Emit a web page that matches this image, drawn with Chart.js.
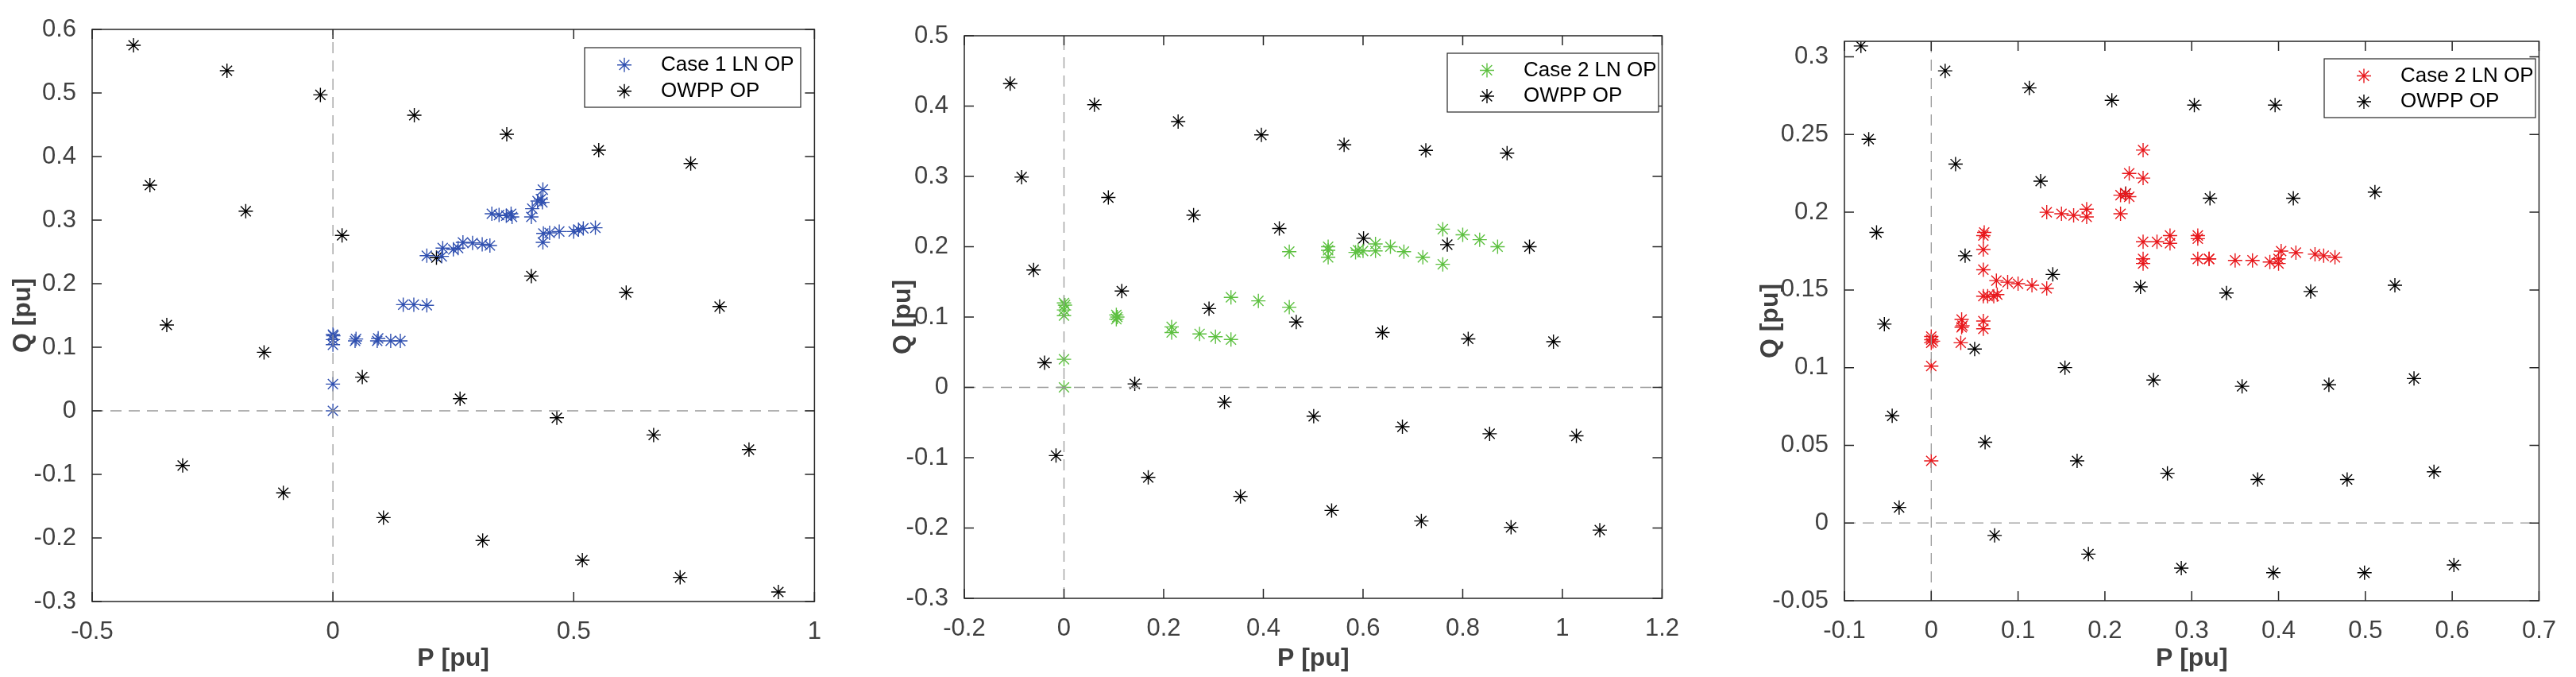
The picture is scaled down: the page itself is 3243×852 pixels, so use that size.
<!DOCTYPE html>
<html><head><meta charset="utf-8">
<script src="https://cdn.jsdelivr.net/npm/chart.js@4.4.0/dist/chart.umd.min.js"></script>
<style>
body{margin:0;background:#fff;width:3243px;height:852px;overflow:hidden;position:relative}
.c{position:absolute;top:0;height:852px}
</style></head><body>
<div class="c" id="d1"><canvas id="c1"></canvas></div>
<div class="c" id="d2"><canvas id="c2"></canvas></div>
<div class="c" id="d3"><canvas id="c3"></canvas></div>
<script>
// ---------- Panel 1 ----------
const p1OwppX=[-0.414,-0.22,-0.026,0.169,0.361,0.552,0.743,-0.38,-0.181,0.019,0.215,0.412,0.609,0.803,-0.345,-0.143,0.061,0.264,0.465,0.666,0.864,-0.312,-0.103,0.105,0.311,0.518,0.721,0.925];
const p1OwppY=[0.575,0.535,0.497,0.465,0.435,0.41,0.389,0.355,0.314,0.276,0.241,0.212,0.186,0.164,0.135,0.092,0.053,0.019,-0.011,-0.038,-0.061,-0.086,-0.129,-0.168,-0.204,-0.235,-0.262,-0.285];
const p1LnX=[0,0,0,0,0,0.001,0.046,0.048,0.092,0.094,0.12,0.14,0.146,0.168,0.195,0.195,0.226,0.228,0.25,0.26,0.27,0.29,0.31,0.326,0.33,0.345,0.36,0.37,0.372,0.412,0.414,0.425,0.432,0.436,0.435,0.436,0.437,0.45,0.47,0.5,0.51,0.52,0.545];
const p1LnY=[0,0.042,0.104,0.112,0.12,0.118,0.11,0.113,0.11,0.114,0.11,0.11,0.167,0.167,0.166,0.244,0.243,0.256,0.254,0.256,0.265,0.264,0.262,0.26,0.31,0.308,0.307,0.31,0.305,0.305,0.318,0.33,0.333,0.348,0.328,0.265,0.279,0.28,0.282,0.282,0.285,0.287,0.288];
const p1XTicks=[-0.5,0,0.5,1];
const p1YTicks=[-0.3,-0.2,-0.1,0,0.1,0.2,0.3,0.4,0.5,0.6];
// ---------- Panel 2 ----------
const p2OwppX=[-0.108,0.061,0.229,0.396,0.562,0.726,0.889,-0.085,0.089,0.26,0.432,0.601,0.769,0.934,-0.061,0.116,0.291,0.466,0.639,0.811,0.982,-0.039,0.142,0.322,0.501,0.679,0.854,1.028,-0.016,0.169,0.354,0.537,0.717,0.897,1.075];
const p2OwppY=[0.432,0.402,0.378,0.359,0.345,0.337,0.333,0.299,0.27,0.245,0.226,0.212,0.203,0.2,0.167,0.137,0.112,0.093,0.078,0.069,0.065,0.035,0.005,-0.021,-0.041,-0.056,-0.066,-0.069,-0.097,-0.128,-0.155,-0.175,-0.19,-0.199,-0.203];
const p2LnX=[0,0,0,0,0,0.002,0.105,0.105,0.107,0.216,0.216,0.272,0.304,0.335,0.335,0.39,0.452,0.452,0.53,0.53,0.53,0.585,0.59,0.6,0.625,0.625,0.655,0.682,0.72,0.76,0.76,0.8,0.834,0.87];
const p2LnY=[0,0.04,0.102,0.11,0.12,0.117,0.097,0.103,0.1,0.078,0.086,0.076,0.072,0.068,0.128,0.123,0.114,0.193,0.185,0.195,0.2,0.192,0.195,0.194,0.194,0.204,0.2,0.193,0.185,0.175,0.225,0.217,0.21,0.2];
const p2XTicks=[-0.2,0,0.2,0.4,0.6,0.8,1,1.2];
const p2YTicks=[-0.3,-0.2,-0.1,0,0.1,0.2,0.3,0.4,0.5];
// ---------- Panel 3 ----------
const p3OwppX=[-0.081,0.016,0.113,0.208,0.303,0.396,-0.072,0.028,0.126,0.224,0.321,0.417,0.511,-0.063,0.039,0.14,0.241,0.34,0.437,0.534,-0.054,0.05,0.154,0.256,0.358,0.458,0.556,-0.045,0.062,0.168,0.272,0.376,0.479,0.579,-0.037,0.073,0.181,0.288,0.394,0.499,0.602];
const p3OwppY=[0.307,0.291,0.28,0.272,0.269,0.269,0.247,0.231,0.22,0.212,0.209,0.209,0.213,0.187,0.172,0.16,0.152,0.148,0.149,0.153,0.128,0.112,0.1,0.092,0.088,0.089,0.093,0.069,0.052,0.04,0.032,0.028,0.028,0.033,0.01,-0.008,-0.02,-0.029,-0.032,-0.032,-0.027];
const p3LnX=[0,0,0,0,0,0.002,0.034,0.035,0.035,0.036,0.06,0.06,0.06,0.06,0.06,0.06,0.061,0.065,0.072,0.076,0.075,0.088,0.1,0.116,0.133,0.133,0.15,0.164,0.179,0.179,0.218,0.218,0.224,0.228,0.228,0.244,0.244,0.244,0.244,0.244,0.26,0.275,0.275,0.307,0.307,0.307,0.32,0.32,0.35,0.37,0.39,0.4,0.4,0.403,0.42,0.442,0.452,0.465];
const p3LnY=[0.04,0.101,0.116,0.118,0.12,0.117,0.116,0.126,0.131,0.127,0.125,0.13,0.146,0.163,0.176,0.185,0.187,0.146,0.146,0.147,0.156,0.155,0.154,0.153,0.151,0.2,0.199,0.198,0.197,0.202,0.199,0.211,0.212,0.21,0.225,0.222,0.24,0.167,0.17,0.181,0.181,0.18,0.185,0.183,0.185,0.17,0.17,0.17,0.169,0.169,0.168,0.167,0.17,0.175,0.174,0.173,0.172,0.171];
const p3XTicks=[-0.1,0,0.1,0.2,0.3,0.4,0.5,0.6,0.7];
const p3YTicks=[-0.05,0,0.05,0.1,0.15,0.2,0.25,0.3];

const FONT='"Liberation Sans Narrow","Liberation Sans",Arial,sans-serif';
const TXT='#404040';
function pts(xs,ys){return xs.map((x,i)=>({x:x,y:ys[i]}));}
function fmt(v){return String(Math.round(v*1000)/1000);}

const frame={id:'frame',afterDraw(ch,a,o){
  const c=ch.ctx,ar=ch.chartArea;
  c.save();c.strokeStyle='#262626';c.lineWidth=1.5;
  c.strokeRect(ar.left,ar.top,ar.right-ar.left,ar.bottom-ar.top);
  const L=12;
  ch.scales.x.ticks.forEach(t=>{const p=ch.scales.x.getPixelForValue(t.value);
    c.beginPath();c.moveTo(p,ar.bottom);c.lineTo(p,ar.bottom-L);c.moveTo(p,ar.top);c.lineTo(p,ar.top+L);c.stroke();});
  ch.scales.y.ticks.forEach(t=>{const p=ch.scales.y.getPixelForValue(t.value);
    c.beginPath();c.moveTo(ar.left,p);c.lineTo(ar.left+L,p);c.moveTo(ar.right,p);c.lineTo(ar.right-L,p);c.stroke();});
  const lg=o.box; if(lg){
    c.fillStyle='#fff';c.fillRect(lg.x,lg.y,lg.w,lg.h);
    c.strokeStyle='#262626';c.lineWidth=1.2;c.strokeRect(lg.x,lg.y,lg.w,lg.h);
    c.font='26px '+FONT;c.textBaseline='middle';
    lg.items.forEach((it,i)=>{const yy=lg.y+lg.h*(i===0?0.29:0.73);
      c.strokeStyle=it.color;c.lineWidth=1.4;
      Chart.helpers.drawPoint(c,{pointStyle:'star',radius:9,rotation:0,borderWidth:1.4},lg.x+50,yy);
      c.fillStyle='#000';c.fillText(it.label,lg.x+96,yy);});
  }
  c.restore();}};

function make(id,div,left,width,top,bottom,ylw,xr,yr,xt,yt,ln,ow,col,lab,box){
  const d=document.getElementById(div);d.style.left=left+'px';d.style.width=width+'px';
  const dash={type:'line',data:[{x:0,y:yr[0]},{x:0,y:yr[1]}],borderColor:'#999',borderWidth:1.3,borderDash:[14,9],pointRadius:0,showLine:true};
  const dash2={type:'line',data:[{x:xr[0],y:0},{x:xr[1],y:0}],borderColor:'#999',borderWidth:1.3,borderDash:[14,9],pointRadius:0,showLine:true};
  new Chart(document.getElementById(id),{type:'scatter',
    data:{datasets:[dash,dash2,
      {data:ln,pointStyle:'star',pointRadius:9,borderColor:col,borderWidth:1.4,backgroundColor:col},
      {data:ow,pointStyle:'star',pointRadius:9,borderColor:'#000',borderWidth:1.4,backgroundColor:'#000'}]},
    options:{responsive:true,maintainAspectRatio:false,animation:false,
      layout:{padding:{top:top,right:16,left:0,bottom:0}},
      plugins:{legend:{display:false},tooltip:{enabled:false},frame:{box:{x:box[0]-left,y:box[1],w:box[2],h:box[3],items:[{label:lab,color:col},{label:'OWPP OP',color:'#000'}]}}},
      scales:{
        x:{min:xr[0],max:xr[1],afterFit:s=>{s.height=852-bottom},afterBuildTicks:s=>{s.ticks=xt.map(v=>({value:v}))},
          grid:{display:false},border:{display:false},
          ticks:{color:TXT,font:{size:31,family:FONT},padding:12,maxRotation:0,callback:fmt},
          title:{display:true,text:'P [pu]',color:TXT,font:{size:32,family:FONT,weight:'bold'},padding:{top:6}}},
        y:{min:yr[0],max:yr[1],afterFit:s=>{s.width=ylw},afterBuildTicks:s=>{s.ticks=yt.map(v=>({value:v}))},
          grid:{display:false},border:{display:false},
          ticks:{color:TXT,font:{size:31,family:FONT},padding:12,callback:fmt},
          title:{display:true,text:'Q [pu]',color:TXT,font:{size:32,family:FONT,weight:'bold'},padding:{bottom:6}}}}},
    plugins:[frame]});
}
make('c1','d1',6,1030-6+16,37,757,110,[-0.5,1],[-0.3,0.6],p1XTicks,p1YTicks,pts(p1LnX,p1LnY),pts(p1OwppX,p1OwppY),'#3050b0','Case 1 LN OP',[736,60,272,75]);
make('c2','d2',1114,2110-1114+16,45,753,100,[-0.2,1.2],[-0.3,0.5],p2XTicks,p2YTicks,pts(p2LnX,p2LnY),pts(p2OwppX,p2OwppY),'#5dc040','Case 2 LN OP',[1822,67,266,74]);
make('c3','d3',2206,3214-2206+16,52,756,116,[-0.1,0.7],[-0.05,0.31],p3XTicks,p3YTicks,pts(p3LnX,p3LnY),pts(p3OwppX,p3OwppY),'#e8181c','Case 2 LN OP',[2926,74,266,74]);
</script></body></html>
